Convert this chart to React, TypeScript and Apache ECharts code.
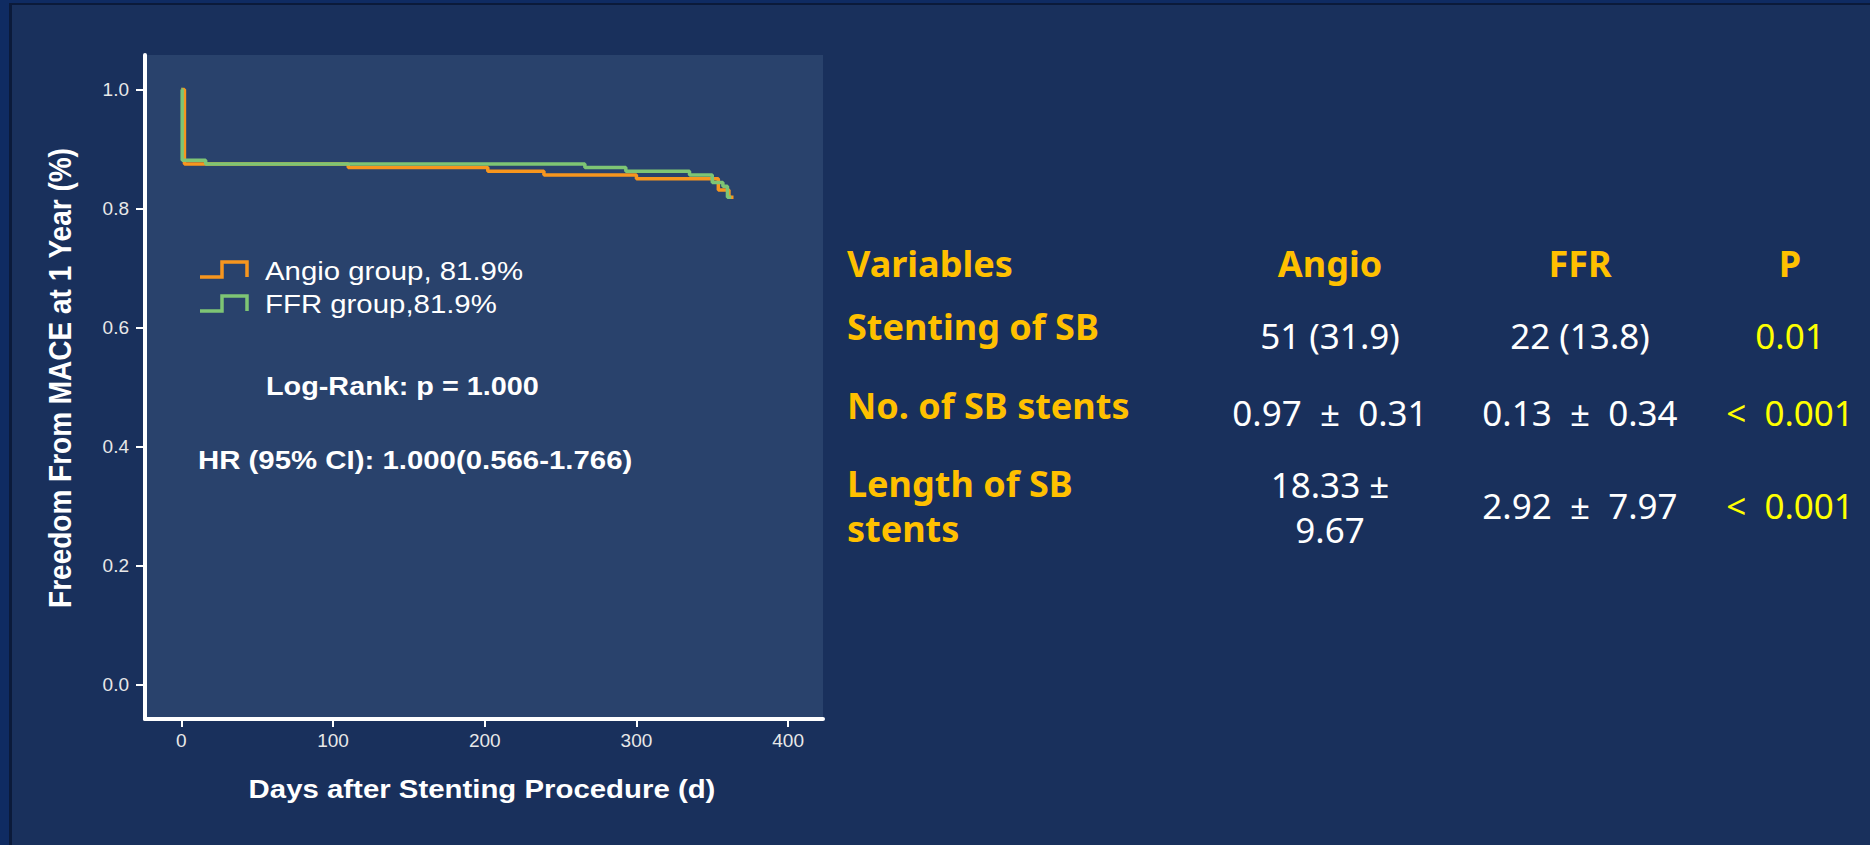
import React, { useEffect, useRef } from "react";
import * as echarts from "echarts";

// Kaplan-Meier curves (days, survival probability)
const angioDays = [0, 2, 110, 202, 239, 300, 354, 361, 364];
const angioSurv = [1.0, 0.875, 0.86875, 0.8625, 0.85625, 0.85, 0.83125, 0.81875, 0.81875];
const ffrDays = [0, 0.5, 16, 266, 293, 335, 350, 357, 360, 362.5];
const ffrSurv = [1.0, 0.88125, 0.875, 0.86875, 0.8625, 0.85625, 0.84375, 0.8375, 0.81875, 0.81875];

const seriesNames = ["Angio group, 81.9%", "FFR group,81.9%"];
const xTicks = [0, 100, 200, 300, 400];
const yTicks = [0, 0.2, 0.4, 0.6, 0.8, 1.0];
const xTitle = "Days after Stenting Procedure (d)";
const yTitle = "Freedom From MACE at 1 Year (%)";
const statTexts = ["Log-Rank: p = 1.000", "HR (95% CI): 1.000(0.566-1.766)"];

// Table
const tableHeader = ["Variables", "Angio", "FFR", "P"];
const tableLabels = [["Stenting of SB"], ["No. of SB stents"], ["Length of SB", "stents"]];
const tableAngio = [["51 (31.9)"], ["0.97  ±  0.31"], ["18.33 ±", "9.67"]];
const tableFFR = [["22 (13.8)"], ["0.13  ±  0.34"], ["2.92  ±  7.97"]];
const tableP = ["0.01", "<  0.001", "<  0.001"];

const ORANGE = "#F7961E";
const GREEN = "#7EC574";
const CHART_FONT = "'Liberation Sans', Arial, sans-serif";
const TABLE_FONT = "'Noto Sans', 'Noto Sans CJK KR', sans-serif";

export default function App() {
  const ref = useRef<HTMLDivElement>(null);

  useEffect(() => {
    if (!ref.current) return;
    const chart = echarts.init(ref.current, undefined, { renderer: "svg" });

    const SX = 1.13;
    const graphics: any[] = [];

    // axis titles
    graphics.push({
      type: "text",
      x: 482,
      y: 789,
      scaleX: SX,
      style: { text: xTitle, fill: "#ffffff", font: `bold 26px ${CHART_FONT}`, textAlign: "center", textVerticalAlign: "middle" },
    });
    graphics.push({
      type: "text",
      x: 60,
      y: 378,
      rotation: Math.PI / 2,
      scaleY: SX,
      style: { text: yTitle, fill: "#ffffff", font: `bold 28px ${CHART_FONT}`, textAlign: "center", textVerticalAlign: "middle" },
    });

    // legend
    const legendRows = [
      { color: ORANGE, top: 262, textY: 271 },
      { color: GREEN, top: 296, textY: 304 },
    ];
    legendRows.forEach((r, i) => {
      graphics.push({
        type: "polyline",
        shape: { points: [[200, r.top + 15], [222, r.top + 15], [222, r.top], [247, r.top], [247, r.top + 15]] },
        style: { stroke: r.color, lineWidth: 3.5, fill: null },
      });
      graphics.push({
        type: "text",
        x: 265,
        y: r.textY,
        scaleX: SX,
        style: { text: seriesNames[i], fill: "#ffffff", font: `26px ${CHART_FONT}`, textAlign: "left", textVerticalAlign: "middle" },
      });
    });
    graphics.push({
      type: "text",
      x: 266,
      y: 386,
      scaleX: SX,
      style: { text: statTexts[0], fill: "#ffffff", font: `bold 25.5px ${CHART_FONT}`, textAlign: "left", textVerticalAlign: "middle" },
    });
    graphics.push({
      type: "text",
      x: 198,
      y: 460,
      scaleX: SX,
      style: { text: statTexts[1], fill: "#ffffff", font: `bold 26px ${CHART_FONT}`, textAlign: "left", textVerticalAlign: "middle" },
    });

    // table
    const colX = [847, 1330, 1580, 1790];
    const headerY = 263;
    tableHeader.forEach((h, i) => {
      graphics.push({
        type: "text",
        x: colX[i],
        y: headerY,
        style: { text: h, fill: "#FFC000", font: `bold 36px ${TABLE_FONT}`, textAlign: i === 0 ? "left" : "center", textVerticalAlign: "middle" },
      });
    });
    const rowLabelY = [[326], [405], [483, 528]];
    const rowAngioY = [[335], [412], [484, 529]];
    const rowFFRY = [335, 412, 505];
    const rowPY = [335, 412, 505];
    tableLabels.forEach((lines, r) => {
      lines.forEach((t, k) => {
        graphics.push({
          type: "text",
          x: colX[0],
          y: rowLabelY[r][k],
          style: { text: t, fill: "#FFC000", font: `bold 36px ${TABLE_FONT}`, textAlign: "left", textVerticalAlign: "middle" },
        });
      });
      tableAngio[r].forEach((t, k) => {
        graphics.push({
          type: "text",
          x: colX[1],
          y: rowAngioY[r][k],
          style: { text: t, fill: "#ffffff", font: `35px ${TABLE_FONT}`, textAlign: "center", textVerticalAlign: "middle" },
        });
      });
      tableFFR[r].forEach((t) => {
        graphics.push({
          type: "text",
          x: colX[2],
          y: rowFFRY[r],
          style: { text: t, fill: "#ffffff", font: `35px ${TABLE_FONT}`, textAlign: "center", textVerticalAlign: "middle" },
        });
      });
      graphics.push({
        type: "text",
        x: colX[3],
        y: rowPY[r],
        style: { text: tableP[r], fill: "#FFFF00", font: `35px ${TABLE_FONT}`, textAlign: "center", textVerticalAlign: "middle" },
      });
    });

    const option: any = {
      animation: false,
      backgroundColor: "transparent",
      grid: {
        left: 145,
        top: 55,
        width: 678,
        height: 664,
        show: true,
        backgroundColor: "#29426c",
        borderWidth: 0,
        containLabel: false,
      },
      xAxis: {
        type: "value",
        min: -24,
        max: 423,
        axisLine: { show: true, onZero: false, lineStyle: { color: "#ffffff", width: 4 } },
        axisTick: { show: true, length: 8, customValues: xTicks, lineStyle: { color: "#ffffff", width: 2 } },
        axisLabel: {
          show: true,
          customValues: xTicks,
          margin: 12,
          color: "#e8e8e8",
          fontFamily: CHART_FONT,
          fontSize: 19,
        },
        splitLine: { show: false },
      },
      yAxis: {
        type: "value",
        min: -0.058,
        max: 1.058,
        axisLine: { show: true, onZero: false, lineStyle: { color: "#ffffff", width: 4 } },
        axisTick: { show: true, length: 9, customValues: yTicks, lineStyle: { color: "#ffffff", width: 2 } },
        axisLabel: {
          show: true,
          customValues: yTicks,
          margin: 16,
          color: "#e8e8e8",
          fontFamily: CHART_FONT,
          fontSize: 19,
          formatter: (v: number) => v.toFixed(1),
        },
        splitLine: { show: false },
      },
      series: [
        {
          name: seriesNames[0],
          type: "line",
          step: "end",
          showSymbol: false,
          symbol: "none",
          lineStyle: { color: ORANGE, width: 3.5 },
          itemStyle: { color: ORANGE },
          data: angioDays.map((d, i) => [d, angioSurv[i]]),
        },
        {
          name: seriesNames[1],
          type: "line",
          step: "end",
          showSymbol: false,
          symbol: "none",
          lineStyle: { color: GREEN, width: 3.5 },
          itemStyle: { color: GREEN },
          data: ffrDays.map((d, i) => [d, ffrSurv[i]]),
        },
      ],
      graphic: graphics,
    };

    chart.setOption(option);
    return () => {
      chart.dispose();
    };
  }, []);

  return (
    <div style={{ position: "fixed", left: 0, top: 0, width: 1870, height: 845, background: "#0f2b62", overflow: "hidden" }}>
      <div style={{ position: "absolute", left: 9, top: 3, right: 0, bottom: 0, background: "#0b1a3a" }} />
      <div style={{ position: "absolute", left: 12, top: 5, right: 0, bottom: 0, background: "#19305c" }} />
      <div ref={ref} style={{ position: "absolute", left: 0, top: 0, width: 1870, height: 845 }} />
    </div>
  );
}
